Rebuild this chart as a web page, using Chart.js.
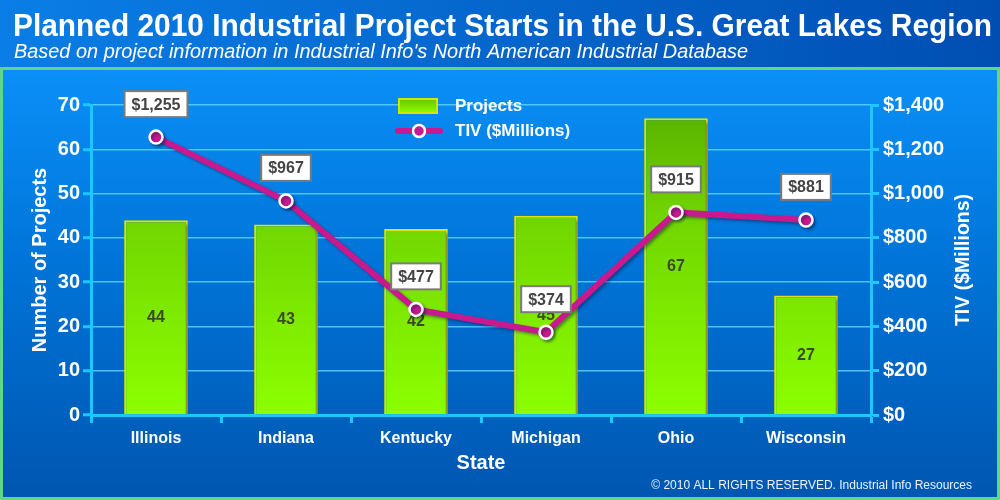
<!DOCTYPE html>
<html>
<head>
<meta charset="utf-8">
<script src="https://cdn.jsdelivr.net/npm/chart.js@4"></script>
<style>
  html, body { margin: 0; padding: 0; background: #0060c0; }
  #wrap { width: 1000px; height: 500px; position: relative; }
</style>
</head>
<body>
<div id="wrap"><canvas id="chart" width="1000" height="500"></canvas></div>
<script>
const states = ['Illinois', 'Indiana', 'Kentucky', 'Michigan', 'Ohio', 'Wisconsin'];
const projects = [44, 43, 42, 45, 67, 27];
const tivMillions = [1255, 967, 477, 374, 915, 881];
const projectAxis = { min: 0, max: 70, step: 5, labelEvery: 10 };
const tivAxis = { min: 0, max: 1400, step: 200 };

const titleText = 'Planned 2010 Industrial Project Starts in the U.S. Great Lakes Region';
const subtitleText = "Based on project information in Industrial Info's North American Industrial Database";
const copyText = '\u00A9 2010 ALL RIGHTS RESERVED. Industrial Info Resources';
const rightTitle = 'TIV ($Millions)';

const NARROW = '"Liberation Sans Narrow", "Liberation Sans", Arial, sans-serif';
const WIDE = '"Liberation Sans", Arial, sans-serif';
const CYAN = '#1cc8ff';
const GRID = 'rgba(90, 210, 255, 0.85)';
const MAGENTA = '#c8198e';

const money = (n) => '$' + Number(n).toLocaleString('en-US');

const decor = {
  id: 'decor',
  beforeDraw(chart) {
    const { ctx, width, height } = chart;
    ctx.save();
    // header band
    let g = ctx.createLinearGradient(0, 0, width, 0);
    g.addColorStop(0, '#0a7ee6');
    g.addColorStop(1, '#004eb2');
    ctx.fillStyle = g;
    ctx.fillRect(0, 0, width, 68);
    // panel
    g = ctx.createLinearGradient(0, 68, 0, height);
    g.addColorStop(0, '#0a90f8');
    g.addColorStop(0.45, '#0074d8');
    g.addColorStop(1, '#0056b0');
    ctx.fillStyle = g;
    ctx.fillRect(0, 68, width, height - 68);
    ctx.strokeStyle = '#5fd884';
    ctx.lineWidth = 3;
    ctx.strokeRect(1.5, 68.5, width - 3, height - 70);
    ctx.restore();
  },
  beforeDatasetDraw(chart) {
    const { ctx } = chart;
    ctx.save();
    ctx.shadowColor = 'rgba(0, 20, 60, 0.45)';
    ctx.shadowOffsetX = 2;
    ctx.shadowOffsetY = 2;
    ctx.shadowBlur = 3;
  },
  afterDatasetDraw(chart, args) {
    const { ctx } = chart;
    ctx.restore();
    if (args.index !== 0) return;
    const meta = chart.getDatasetMeta(0);
    const yScale = chart.scales.y;
    ctx.save();
    ctx.fillStyle = '#3c4a22';
    ctx.font = 'bold 16px ' + WIDE;
    ctx.textAlign = 'center';
    ctx.textBaseline = 'middle';
    meta.data.forEach((bar, i) => {
      const mid = yScale.getPixelForValue(projects[i] / 2);
      ctx.fillText(String(projects[i]), bar.x, mid);
    });
    ctx.restore();
  },
  afterDatasetsDraw(chart) {
    const { ctx } = chart;
    const meta = chart.getDatasetMeta(1);
    ctx.save();
    ctx.font = 'bold 16px ' + WIDE;
    ctx.textAlign = 'center';
    ctx.textBaseline = 'middle';
    meta.data.forEach((pt, i) => {
      const txt = money(tivMillions[i]);
      const w = ctx.measureText(txt).width + 14;
      const h = 26;
      const cx = pt.x, cy = pt.y - 33;
      ctx.fillStyle = '#ffffff';
      ctx.fillRect(cx - w / 2, cy - h / 2, w, h);
      ctx.strokeStyle = '#7a7a7a';
      ctx.lineWidth = 2;
      ctx.strokeRect(cx - w / 2, cy - h / 2, w, h);
      ctx.fillStyle = '#444444';
      ctx.fillText(txt, cx, cy + 1);
    });
    ctx.restore();
  },
  afterDraw(chart) {
    const { ctx, chartArea } = chart;
    ctx.save();
    ctx.fillStyle = '#ffffff';
    ctx.textBaseline = 'alphabetic';
    ctx.textAlign = 'left';
    ctx.font = 'bold 31px ' + NARROW;
    ctx.fillText(titleText, 13, 36, 979);
    ctx.font = 'italic 20px ' + NARROW;
    ctx.fillText(subtitleText, 14, 58, 734);
    ctx.font = '12px ' + NARROW;
    ctx.textAlign = 'right';
    ctx.fillStyle = '#e8f4ff';
    ctx.fillText(copyText, 972, 489, 330);

    // right axis title, reading bottom to top
    ctx.save();
    ctx.translate(964, (chartArea.top + chartArea.bottom) / 2);
    ctx.rotate(-Math.PI / 2);
    ctx.textAlign = 'center';
    ctx.textBaseline = 'middle';
    ctx.fillStyle = '#ffffff';
    ctx.font = 'bold 19.5px ' + WIDE;
    ctx.fillText(rightTitle, 0, 0);
    ctx.restore();

    // legend
    const ds = chart.data.datasets;
    ctx.textAlign = 'left';
    ctx.textBaseline = 'middle';
    ctx.font = 'bold 17px ' + WIDE;
    let g = ctx.createLinearGradient(0, 98, 0, 113);
    g.addColorStop(0, '#66c000');
    g.addColorStop(1, '#8cff00');
    ctx.fillStyle = g;
    ctx.fillRect(399, 99, 38, 14);
    ctx.strokeStyle = '#d4e600';
    ctx.lineWidth = 2;
    ctx.strokeRect(399, 99, 38, 14);
    ctx.fillStyle = '#ffffff';
    ctx.fillText(ds[0].label, 455, 106);

    ctx.strokeStyle = MAGENTA;
    ctx.lineWidth = 6;
    ctx.lineCap = 'round';
    ctx.beginPath();
    ctx.moveTo(398, 131);
    ctx.lineTo(440, 131);
    ctx.stroke();
    ctx.beginPath();
    ctx.arc(419, 131, 6, 0, Math.PI * 2);
    ctx.fillStyle = MAGENTA;
    ctx.fill();
    ctx.lineWidth = 2.5;
    ctx.strokeStyle = '#ffffff';
    ctx.stroke();
    ctx.fillStyle = '#ffffff';
    ctx.fillText(ds[1].label, 455, 131);
    ctx.restore();
  }
};

const barFill = (c) => {
  const a = c.chart.chartArea;
  if (!a) return '#7ae000';
  const g = c.chart.ctx.createLinearGradient(0, a.top, 0, a.bottom);
  g.addColorStop(0, '#58b000');
  g.addColorStop(0.35, '#70d400');
  g.addColorStop(1, '#8cff00');
  return g;
};

new Chart(document.getElementById('chart'), {
  data: {
    labels: states,
    datasets: [
      {
        type: 'bar',
        label: 'Projects',
        data: projects,
        yAxisID: 'y',
        backgroundColor: barFill,
        borderColor: '#dce800',
        borderWidth: 2,
        barPercentage: 0.49,
        categoryPercentage: 1,
        order: 2
      },
      {
        type: 'line',
        label: 'TIV ($Millions)',
        data: tivMillions,
        yAxisID: 'y1',
        borderColor: MAGENTA,
        borderWidth: 6,
        pointRadius: 6.5,
        pointBackgroundColor: MAGENTA,
        pointBorderColor: '#ffffff',
        pointBorderWidth: 2.5,
        tension: 0,
        order: 1
      }
    ]
  },
  options: {
    responsive: false,
    animation: false,
    layout: { padding: { left: 20, right: 20, top: 105, bottom: 0 } },
    plugins: {
      legend: { display: false },
      title: { display: false },
      tooltip: { enabled: false }
    },
    scales: {
      x: {
        offset: true,
        afterFit: (s) => { s.height = 85; },
        grid: { offset: true, drawOnChartArea: false, drawTicks: true, tickLength: 8, tickWidth: 3, tickColor: CYAN },
        border: { display: true, color: CYAN, width: 3 },
        ticks: { color: '#ffffff', font: { family: NARROW, size: 16, weight: 'bold' }, padding: 6 },
        title: { display: true, text: 'State', color: '#ffffff', font: { family: WIDE, size: 20, weight: 'bold' }, padding: { top: 0, bottom: 25 } }
      },
      y: {
        position: 'left',
        min: projectAxis.min,
        max: projectAxis.max,
        afterFit: (s) => { s.width = 71; },
        ticks: {
          stepSize: projectAxis.step,
          color: '#ffffff',
          padding: 3,
          font: { family: WIDE, size: 20, weight: 'bold' },
          callback: (v) => (v % projectAxis.labelEvery === 0 ? v : '')
        },
        grid: {
          color: GRID,
          lineWidth: 1.5,
          drawTicks: true,
          tickLength: 8,
          tickWidth: 3,
          tickColor: (c) => (c.tick && c.tick.value % projectAxis.labelEvery === 0 ? CYAN : 'rgba(0,0,0,0)')
        },
        border: { display: true, color: CYAN, width: 3 },
        title: { display: true, text: 'Number of Projects', color: '#ffffff', font: { family: WIDE, size: 20, weight: 'bold' }, padding: { top: 8, bottom: 0 } }
      },
      y1: {
        position: 'right',
        min: tivAxis.min,
        max: tivAxis.max,
        afterFit: (s) => { s.width = 109; },
        ticks: {
          stepSize: tivAxis.step,
          color: '#ffffff',
          padding: 4,
          font: { family: WIDE, size: 20, weight: 'bold' },
          callback: (v) => money(v)
        },
        grid: { drawOnChartArea: false, drawTicks: true, tickLength: 8, tickWidth: 3, tickColor: CYAN },
        border: { display: true, color: CYAN, width: 3 },
        title: { display: false }
      }
    }
  },
  plugins: [decor]
});
</script>
</body>
</html>
